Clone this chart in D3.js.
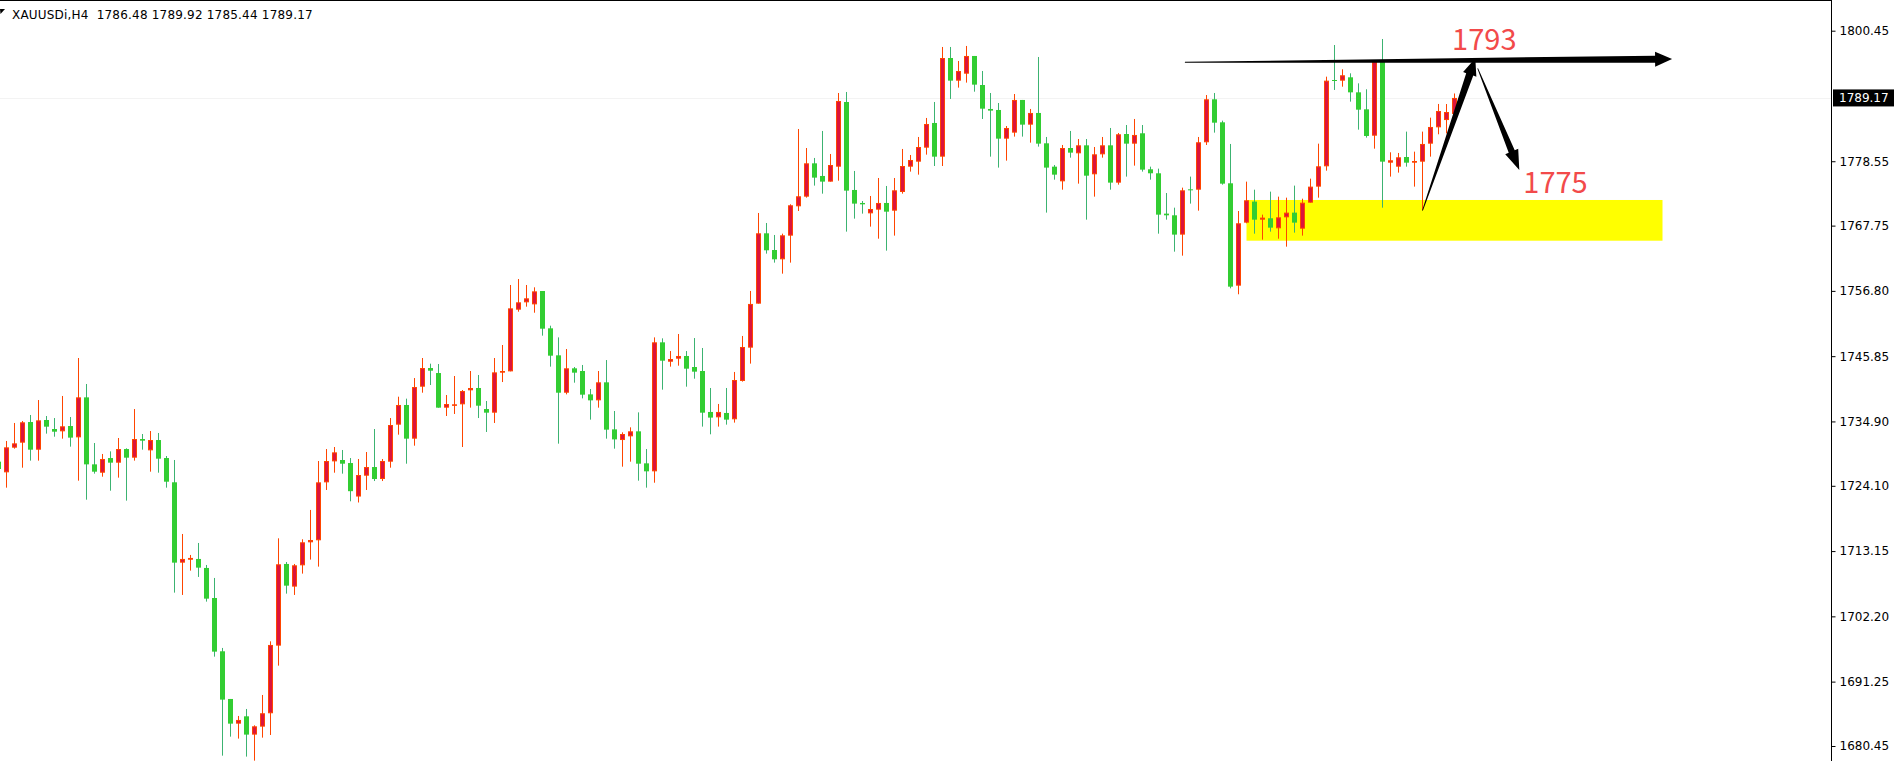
<!DOCTYPE html>
<html><head><meta charset="utf-8">
<script src="https://cdn.jsdelivr.net/npm/d3@7"></script>
<style>body{margin:0;background:#fff;overflow:hidden} svg{display:block}</style>
</head><body>
<svg id="chart" width="1894" height="761"></svg>
<script>
// ---------- data ----------
const symbolTitle = "XAUUSDi,H4";
const firstBar = -1; // index of first (partially visible) bar
const opens = [1728.15,
1726.36,1730.50,1731.34,1734.80,1730.16,1735.14,1733.63,1733.24,1734.13,1732.23,
1738.94,1727.70,1726.30,1728.76,1727.98,1730.27,1728.82,1731.95,1730.05,1731.78,
1728.76,1724.69,1711.21,1711.70,1711.83,1710.32,1705.28,1696.34,1688.34,1684.20,
1685.43,1682.36,1683.70,1685.94,1697.29,1710.99,1707.19,1710.76,1714.62,1714.96,
1724.68,1728.20,1728.43,1727.92,1722.30,1725.80,1727.25,1725.24,1728.15,1734.36,
1737.66,1732.01,1740.73,1743.86,1743.02,1737.21,1737.77,1737.77,1740.12,1740.51,
1736.98,1736.37,1743.08,1743.30,1753.65,1754.88,1754.54,1756.78,1750.52,1745.99,
1739.72,1743.81,1743.36,1739.44,1738.44,1741.46,1733.57,1731.78,1732.40,1733.24,
1727.87,1726.53,1748.17,1744.92,1745.43,1745.88,1744.03,1743.36,1736.49,1735.59,
1736.32,1735.26,1741.69,1747.28,1754.66,1766.46,1763.66,1762.10,1766.07,1770.99,
1772.61,1778.20,1776.08,1775.13,1777.64,1788.49,1773.73,1771.55,1769.81,1770.43,
1771.55,1770.26,1773.39,1777.64,1778.48,1780.83,1784.97,1779.32,1795.87,1792.07,
1793.24,1796.21,1791.34,1787.32,1787.15,1782.34,1783.35,1788.83,1784.69,1786.65,
1781.56,1777.64,1775.18,1780.77,1779.88,1781.22,1776.36,1779.71,1781.22,1774.96,
1783.12,1781.50,1783.24,1777.20,1776.53,1769.76,1769.48,1766.24,1773.84,1773.78,
1781.73,1788.94,1785.08,1774.85,1757.68,1768.25,1771.78,1768.75,1768.98,1767.30,
1769.14,1769.93,1767.24,1771.60,1774.29,1777.70,1792.18,1792.07,1792.63,1790.11,
1787.26,1782.84,1795.20,1778.31,1777.64,1779.26,1778.31,1778.48,1781.50,1784.24,
1785.46,1786.48];
const highs = [1728.60,
1731.62,1734.64,1734.97,1735.98,1738.49,1735.81,1735.47,1739.17,1735.64,1745.54,
1741.18,1731.28,1729.44,1729.88,1732.12,1730.39,1736.98,1732.79,1733.29,1732.96,
1729.10,1728.43,1716.02,1712.50,1714.51,1710.82,1708.64,1696.90,1688.34,1685.49,
1686.66,1683.92,1689.01,1698.01,1715.29,1711.32,1710.99,1715.13,1720.05,1728.26,
1730.27,1730.61,1730.11,1728.76,1728.60,1729.77,1733.63,1728.60,1735.47,1739.05,
1738.72,1742.18,1745.54,1744.59,1744.53,1739.33,1742.52,1740.17,1743.36,1742.69,
1738.33,1745.54,1747.72,1757.79,1758.79,1757.79,1757.40,1756.78,1750.96,1749.00,
1747.05,1744.03,1744.37,1740.34,1743.36,1745.20,1736.65,1733.07,1733.91,1736.42,
1730.27,1749.00,1748.84,1746.71,1749.57,1746.71,1748.89,1747.22,1740.51,1737.83,
1740.51,1743.20,1749.24,1756.79,1769.87,1768.19,1766.18,1766.40,1771.33,1783.96,
1780.77,1779.10,1783.63,1779.77,1790.00,1790.17,1776.92,1771.88,1772.72,1775.74,
1774.40,1775.74,1780.61,1779.60,1782.62,1785.81,1788.49,1797.72,1797.72,1795.37,
1797.89,1796.21,1793.69,1790.00,1788.32,1784.46,1789.83,1788.83,1787.32,1796.04,
1782.62,1777.92,1781.28,1783.63,1782.28,1782.28,1780.94,1782.62,1784.13,1783.29,
1784.63,1785.64,1784.63,1777.64,1777.31,1773.22,1770.76,1774.12,1775.97,1782.62,
1789.66,1790.00,1785.36,1781.45,1770.20,1775.13,1773.78,1769.59,1773.45,1772.61,
1772.44,1774.46,1772.27,1775.63,1781.50,1792.74,1798.05,1793.97,1793.30,1791.62,
1790.62,1795.26,1799.06,1780.05,1779.94,1783.52,1780.16,1783.52,1785.86,1788.16,
1788.15,1789.92];
const lows = [1726.50,
1723.79,1730.33,1727.14,1728.32,1728.32,1732.85,1732.34,1732.01,1730.67,1724.96,
1721.77,1726.14,1725.63,1723.28,1725.47,1721.61,1728.32,1730.16,1726.47,1726.30,
1723.79,1706.18,1705.79,1709.87,1708.81,1704.67,1695.44,1678.83,1682.02,1681.69,
1678.67,1677.99,1681.85,1682.30,1693.93,1706.01,1705.79,1709.37,1711.72,1710.54,
1723.40,1726.30,1726.14,1721.50,1721.30,1723.40,1724.90,1724.90,1727.14,1732.68,
1727.81,1730.83,1739.72,1741.01,1737.20,1735.81,1736.15,1730.61,1737.21,1735.47,
1733.13,1734.64,1741.51,1743.30,1753.31,1754.15,1753.14,1749.29,1744.09,1731.17,
1739.44,1741.40,1738.77,1735.20,1737.21,1732.01,1730.33,1727.31,1728.15,1724.96,
1723.79,1724.62,1740.23,1744.09,1744.25,1740.73,1742.07,1734.03,1732.74,1734.03,
1734.36,1734.70,1741.58,1744.60,1754.66,1763.05,1761.54,1759.69,1761.54,1770.20,
1772.44,1774.46,1773.11,1775.13,1775.29,1766.74,1768.92,1769.76,1767.58,1765.56,
1763.55,1766.07,1773.11,1776.81,1776.30,1779.66,1777.75,1777.75,1789.00,1790.90,
1791.74,1790.22,1785.64,1779.32,1777.48,1778.65,1782.68,1782.68,1781.67,1781.00,
1769.93,1775.46,1773.78,1779.15,1774.79,1768.75,1772.61,1779.15,1773.78,1774.62,
1775.97,1777.81,1776.81,1775.46,1766.40,1768.75,1763.38,1762.71,1771.44,1770.26,
1781.28,1783.35,1774.62,1757.23,1756.23,1768.14,1766.40,1765.40,1766.74,1765.56,
1764.22,1766.57,1766.07,1771.60,1772.44,1776.97,1790.51,1791.06,1788.55,1783.85,
1782.51,1780.66,1770.76,1775.97,1776.64,1777.64,1774.29,1770.37,1779.32,1783.07,
1783.23,1785.44];
const closes = [1726.92,
1730.55,1731.22,1734.75,1730.16,1735.08,1734.02,1733.18,1734.08,1732.18,1738.94,
1727.70,1726.47,1728.60,1727.98,1730.27,1728.82,1731.95,1731.67,1731.78,1728.65,
1724.79,1711.21,1711.83,1712.00,1710.37,1705.17,1696.28,1688.23,1684.20,1684.82,
1682.36,1683.75,1685.94,1697.40,1710.93,1707.35,1710.76,1714.62,1715.01,1724.68,
1728.26,1729.71,1727.81,1723.20,1725.91,1727.25,1725.24,1728.26,1734.30,1737.66,
1732.01,1740.67,1743.86,1743.41,1737.21,1737.82,1737.77,1740.00,1740.51,1737.54,
1736.37,1743.13,1743.36,1753.87,1754.88,1755.55,1756.72,1750.46,1745.93,1739.72,
1743.81,1743.08,1739.39,1738.44,1741.46,1733.52,1731.89,1732.79,1733.24,1727.81,
1726.53,1748.17,1745.09,1745.37,1745.88,1743.75,1743.25,1736.37,1735.54,1736.49,
1735.20,1741.85,1747.39,1754.61,1766.46,1763.61,1762.10,1766.12,1771.16,1772.67,
1778.20,1775.80,1775.13,1777.92,1788.66,1773.62,1771.44,1771.32,1770.54,1771.55,
1770.09,1773.67,1777.75,1778.76,1780.94,1784.80,1779.32,1795.87,1792.07,1793.69,
1796.21,1791.40,1787.37,1787.04,1782.34,1784.13,1788.83,1784.69,1786.65,1781.50,
1777.48,1776.30,1780.77,1779.99,1781.22,1776.13,1779.71,1781.22,1774.96,1783.07,
1781.50,1782.96,1777.14,1776.53,1769.59,1769.48,1766.24,1773.67,1773.73,1781.73,
1788.94,1785.02,1774.79,1757.51,1768.14,1772.00,1768.75,1769.09,1767.41,1769.14,
1769.93,1768.25,1771.60,1774.29,1777.70,1792.07,1792.07,1792.97,1790.11,1787.20,
1782.79,1795.26,1778.48,1778.71,1779.21,1778.31,1778.59,1781.45,1784.30,1786.98,
1786.81,1789.17];
const tickValues = [1800.45, 1778.55, 1767.75, 1756.80, 1745.85, 1734.90, 1724.10, 1713.15, 1702.20, 1691.25, 1680.45];
const lastPrice = 1789.17;
// annotations (bar index, price)
const zoneBars = [155, 207];
const zonePrices = [1772.05, 1765.22];
const levelArrow = [[147.3, 1795.15], [208.2, 1795.70]];
const upArrow = [[177.0, 1770.25], [183.6, 1795.82]];
const downArrow = [[183.9, 1794.14], [189.1, 1777.08]];
const labelTexts = ["1793", "1775"];
const labelAnchors = [[180.7, 1797.21], [189.6, 1773.17]];

// ---------- scales ----------
const svg = d3.select("#chart");
const plotRight = 1831;
const x = d3.scaleLinear().domain([0, 181]).range([6.5, 1454.5]);
const y = d3.scaleLinear().domain([1680.45, 1800.45]).range([746, 30.7]);

const bars = opens.map((o, i) => ({k: i + firstBar, o, h: highs[i], l: lows[i], c: closes[i]}));

const plot = svg.append("g").attr("clip-path", "url(#clip)");
svg.append("defs").append("clipPath").attr("id", "clip")
  .append("rect").attr("x", 0).attr("y", 0).attr("width", plotRight).attr("height", 761);

// yellow zone
plot.append("rect")
  .attr("x", x(zoneBars[0])).attr("width", x(zoneBars[1]) - x(zoneBars[0]))
  .attr("y", y(zonePrices[0])).attr("height", y(zonePrices[1]) - y(zonePrices[0]))
  .attr("fill", "#ffff00");

// bid line
plot.append("line").attr("x1", 0).attr("x2", plotRight)
  .attr("y1", Math.round(y(lastPrice)) + 0.5).attr("y2", Math.round(y(lastPrice)) + 0.5)
  .attr("stroke", "#f3f3f3").attr("stroke-width", 1);

// candles
const up = "#DC143C", upEdge = "#FF4500", dn = "#32CD32", dnWick = "#3CB371";
const g = plot.append("g");
g.selectAll("line.wick").data(bars).join("line").attr("class", "wick")
  .attr("x1", d => x(d.k)).attr("x2", d => x(d.k))
  .attr("y1", d => y(d.h)).attr("y2", d => y(d.l))
  .attr("stroke", d => d.c >= d.o ? upEdge : dnWick).attr("stroke-width", 1);
g.selectAll("rect.body").data(bars).join("rect").attr("class", "body")
  .each(function(d) {
    const s = d3.select(this);
    if (d.c >= d.o) {
      const top = y(d.c), bot = y(d.o);
      s.attr("x", x(d.k) - 2).attr("width", 4)
       .attr("y", top + 0.5).attr("height", Math.max(0.5, bot - top - 1))
       .attr("fill", up).attr("stroke", upEdge).attr("stroke-width", 1);
    } else {
      const top = y(d.o), bot = y(d.c);
      s.attr("x", x(d.k) - 2.5).attr("width", 5)
       .attr("y", top).attr("height", Math.max(1, bot - top))
       .attr("fill", dn);
    }
  });

// tapered arrows
function arrowPath(p0, p1, w0, w1, headLen, headHalf) {
  const x0 = x(p0[0]), y0 = y(p0[1]), x1 = x(p1[0]), y1 = y(p1[1]);
  const dx = x1 - x0, dy = y1 - y0, L = Math.hypot(dx, dy);
  const ux = dx / L, uy = dy / L, nx = -uy, ny = ux;
  const bx = x1 - ux * headLen, by = y1 - uy * headLen;
  const pts = [
    [x0 + nx * w0 / 2, y0 + ny * w0 / 2],
    [bx + nx * w1 / 2, by + ny * w1 / 2],
    [bx + nx * headHalf, by + ny * headHalf],
    [x1, y1],
    [bx - nx * headHalf, by - ny * headHalf],
    [bx - nx * w1 / 2, by - ny * w1 / 2],
    [x0 - nx * w0 / 2, y0 - ny * w0 / 2]
  ];
  return "M" + pts.map(p => p.join(",")).join("L") + "Z";
}
const ann = svg.append("g");
ann.append("path").attr("d", arrowPath(levelArrow[0], levelArrow[1], 1, 7, 17, 7.5)).attr("fill", "#000");
ann.append("path").attr("d", arrowPath(upArrow[0], upArrow[1], 0.8, 7.5, 17, 7)).attr("fill", "#000");
ann.append("path").attr("d", arrowPath(downArrow[0], downArrow[1], 0.8, 6.5, 20, 7)).attr("fill", "#000");

ann.selectAll("text.lvl").data(labelTexts).join("text").attr("class", "lvl")
  .attr("x", (d, i) => x(labelAnchors[i][0])).attr("y", (d, i) => y(labelAnchors[i][1]))
  .attr("fill", "#f24a4a").attr("font-family", "'Noto Sans CJK SC', 'Noto Sans', sans-serif")
  .attr("font-size", 29).text(d => d);

// borders
svg.append("line").attr("x1", plotRight + 0.5).attr("x2", plotRight + 0.5).attr("y1", 0).attr("y2", 761)
  .attr("stroke", "#000");
svg.append("line").attr("x1", 0).attr("x2", plotRight).attr("y1", 0.5).attr("y2", 0.5).attr("stroke", "#000");

// axis
const axis = svg.append("g").attr("transform", `translate(${plotRight + 0.5},0)`)
  .call(d3.axisRight(y).tickValues(tickValues).tickSize(4).tickPadding(4).tickFormat(d3.format(".2f")));
axis.select(".domain").remove();
axis.selectAll("text").attr("font-family", "'DejaVu Sans', sans-serif").attr("font-size", 12).attr("fill", "#000");
axis.selectAll("line").attr("stroke", "#000");

// last price box
const ly = y(lastPrice);
svg.append("rect").attr("x", plotRight + 2).attr("y", ly - 8.5).attr("width", 1894 - plotRight - 2).attr("height", 17).attr("fill", "#000");
svg.append("text").attr("x", plotRight + 8).attr("y", ly).attr("dy", "0.36em")
  .attr("font-family", "'DejaVu Sans', sans-serif").attr("font-size", 12).attr("fill", "#fff")
  .text(d3.format(".2f")(lastPrice));

// header
const last = bars[bars.length - 1];
svg.append("path").attr("d", "M0,9L5,9L0.5,14Z").attr("fill", "#000");
svg.append("text").attr("x", 12).attr("y", 19)
  .attr("font-family", "'DejaVu Sans', sans-serif").attr("font-size", 12).attr("letter-spacing", 0.2)
  .attr("fill", "#000").attr("xml:space", "preserve").style("white-space", "pre")
  .text(`${symbolTitle}  ${[last.o, last.h, last.l, last.c].map(d3.format(".2f")).join(" ")}`);
</script>
</body></html>
